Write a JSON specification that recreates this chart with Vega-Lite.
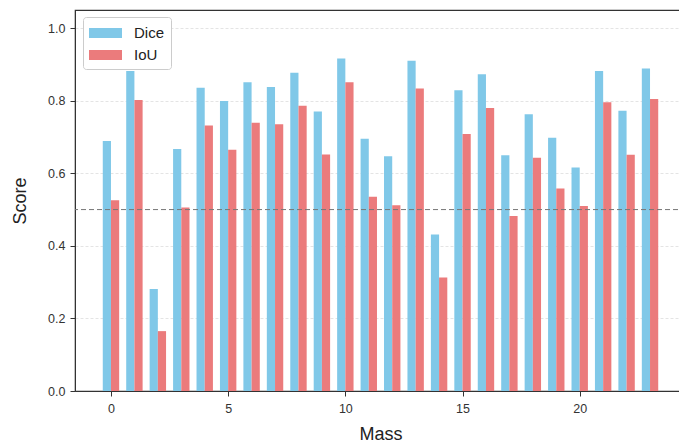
{
  "$schema": "https://vega.github.io/schema/vega-lite/v6.json",
  "autosize": {"type": "none"},
  "padding": {"left": 75, "top": 10, "right": 0, "bottom": 55},
  "width": 611,
  "height": 381,
  "background": "white",
  "config": {
    "font": "Liberation Sans",
    "view": {"stroke": "#333", "strokeWidth": 1.2},
    "axis": {
      "domainColor": "#333",
      "tickColor": "#333",
      "labelColor": "#333",
      "titleColor": "#222",
      "labelFontSize": 12.5,
      "titleFontSize": 18,
      "titleFontWeight": "normal",
      "tickSize": 5
    }
  },
  "layer": [
    {
      "data": {
        "values": [
          {"Mass": 0, "Metric": "Dice", "Score": 0.689}, {"Mass": 0, "Metric": "IoU", "Score": 0.526},
          {"Mass": 1, "Metric": "Dice", "Score": 0.882}, {"Mass": 1, "Metric": "IoU", "Score": 0.802},
          {"Mass": 2, "Metric": "Dice", "Score": 0.281}, {"Mass": 2, "Metric": "IoU", "Score": 0.165},
          {"Mass": 3, "Metric": "Dice", "Score": 0.667}, {"Mass": 3, "Metric": "IoU", "Score": 0.506},
          {"Mass": 4, "Metric": "Dice", "Score": 0.836}, {"Mass": 4, "Metric": "IoU", "Score": 0.732},
          {"Mass": 5, "Metric": "Dice", "Score": 0.799}, {"Mass": 5, "Metric": "IoU", "Score": 0.665},
          {"Mass": 6, "Metric": "Dice", "Score": 0.851}, {"Mass": 6, "Metric": "IoU", "Score": 0.739},
          {"Mass": 7, "Metric": "Dice", "Score": 0.838}, {"Mass": 7, "Metric": "IoU", "Score": 0.735},
          {"Mass": 8, "Metric": "Dice", "Score": 0.877}, {"Mass": 8, "Metric": "IoU", "Score": 0.786},
          {"Mass": 9, "Metric": "Dice", "Score": 0.770}, {"Mass": 9, "Metric": "IoU", "Score": 0.652},
          {"Mass": 10, "Metric": "Dice", "Score": 0.916}, {"Mass": 10, "Metric": "IoU", "Score": 0.851},
          {"Mass": 11, "Metric": "Dice", "Score": 0.695}, {"Mass": 11, "Metric": "IoU", "Score": 0.535},
          {"Mass": 12, "Metric": "Dice", "Score": 0.647}, {"Mass": 12, "Metric": "IoU", "Score": 0.512},
          {"Mass": 13, "Metric": "Dice", "Score": 0.910}, {"Mass": 13, "Metric": "IoU", "Score": 0.834},
          {"Mass": 14, "Metric": "Dice", "Score": 0.431}, {"Mass": 14, "Metric": "IoU", "Score": 0.313},
          {"Mass": 15, "Metric": "Dice", "Score": 0.829}, {"Mass": 15, "Metric": "IoU", "Score": 0.708},
          {"Mass": 16, "Metric": "Dice", "Score": 0.873}, {"Mass": 16, "Metric": "IoU", "Score": 0.780},
          {"Mass": 17, "Metric": "Dice", "Score": 0.650}, {"Mass": 17, "Metric": "IoU", "Score": 0.482},
          {"Mass": 18, "Metric": "Dice", "Score": 0.763}, {"Mass": 18, "Metric": "IoU", "Score": 0.643},
          {"Mass": 19, "Metric": "Dice", "Score": 0.698}, {"Mass": 19, "Metric": "IoU", "Score": 0.558},
          {"Mass": 20, "Metric": "Dice", "Score": 0.616}, {"Mass": 20, "Metric": "IoU", "Score": 0.510},
          {"Mass": 21, "Metric": "Dice", "Score": 0.882}, {"Mass": 21, "Metric": "IoU", "Score": 0.796},
          {"Mass": 22, "Metric": "Dice", "Score": 0.772}, {"Mass": 22, "Metric": "IoU", "Score": 0.651},
          {"Mass": 23, "Metric": "Dice", "Score": 0.889}, {"Mass": 23, "Metric": "IoU", "Score": 0.805}
        ]
      },
      "transform": [
        {"calculate": "datum.Mass + (datum.Metric === 'Dice' ? -0.35 : 0)", "as": "xs"},
        {"calculate": "datum.xs + 0.35", "as": "xe"}
      ],
      "mark": {"type": "bar", "opacity": 1},
      "encoding": {
        "x": {
          "field": "xs", "type": "quantitative",
          "scale": {"domain": [-1.535, 24.535], "nice": false, "zero": false},
          "axis": {"title": "Mass", "values": [0, 5, 10, 15, 20], "grid": false, "labelPadding": 6, "titlePadding": 11}
        },
        "x2": {"field": "xe"},
        "y": {
          "field": "Score", "type": "quantitative",
          "scale": {"domain": [0, 1.05], "nice": false},
          "axis": {
            "title": "Score", "values": [0, 0.2, 0.4, 0.6, 0.8, 1.0], "format": ".1f",
            "grid": true, "gridColor": "#dddddd", "gridDash": [3, 2], "gridWidth": 0.8,
            "labelPadding": 5, "titlePadding": 18
          }
        },
        "y2": {"datum": 0},
        "color": {
          "field": "Metric", "type": "nominal",
          "scale": {"domain": ["Dice", "IoU"], "range": ["#80c8e8", "#eb7b7c"]},
          "legend": {
            "title": null,
            "orient": "none",
            "legendX": 8,
            "legendY": 7,
            "fillColor": "white",
            "strokeColor": "#cccccc",
            "cornerRadius": 3,
            "padding": 6,
            "labelFontSize": 15,
            "labelColor": "#222",
            "labelOffset": 25,
            "symbolType": "M-1,-0.5H2.3V0.5H-1Z",
            "symbolSize": 400,
            "symbolStrokeWidth": 0,
            "rowPadding": 4
          }
        }
      }
    },
    {
      "data": {"values": [{"ref": 0.5}]},
      "mark": {"type": "rule", "color": "#777", "strokeDash": [5, 3], "strokeWidth": 1},
      "encoding": {"y": {"field": "ref", "type": "quantitative"}}
    }
  ]
}
